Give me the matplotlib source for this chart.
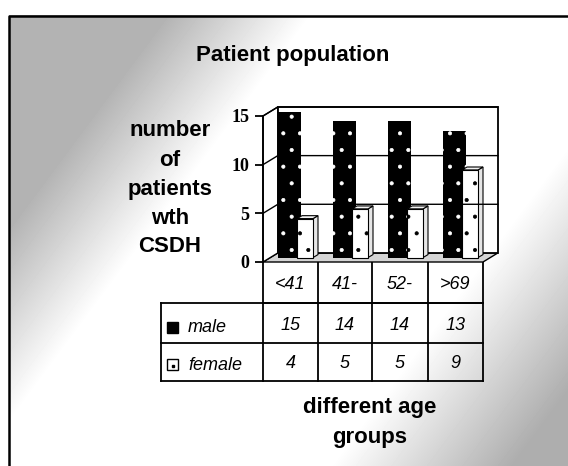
import matplotlib.pyplot as plt
import numpy as np
from matplotlib.patches import Polygon

# data
age_groups = ["<41", "41-", "52-", ">69"]
male = [15, 14, 14, 13]
female = [4, 5, 5, 9]
series_names = ["male", "female"]
yticks = [0, 5, 10, 15]
ylabel_lines = ["number", "of", "patients", "wth", "CSDH"]

plt.rcParams["hatch.linewidth"] = 0.5

W, H = 568, 466
fig = plt.figure(figsize=(W / 100, H / 100), dpi=100)

# background layer in pixel coords
bg = fig.add_axes([0, 0, 1, 1])
bg.set_xlim(0, W)
bg.set_ylim(H, 0)
bg.axis("off")

# grey diagonal shading, white band in the middle
xx, yy = np.meshgrid(np.arange(9, W), np.arange(15, H))
u = xx / 520 + yy / 700
shade = np.ones_like(u, dtype=float)
shade = np.where(u < 0.62, 0.70 + 0.30 * np.clip((u - 0.34) / 0.28, 0, 1), shade)
shade = np.where(u > 1.30, 1 - 0.32 * np.clip((u - 1.30) / 0.35, 0, 1), shade)
bg.imshow(shade, cmap="gray", vmin=0, vmax=1, extent=(9, W, H, 15),
          aspect="auto", interpolation="bilinear")
bg.set_xlim(0, W)
bg.set_ylim(H, 0)
bg.plot([8.5, 8.5, W], [H, 15.5, 15.5], color="black", lw=1.8)

bold = dict(family="Liberation Sans", weight="bold", color="black")
bg.text(293, 56, "Patient population", ha="center", va="center", fontsize=16, **bold)
for yl, txt in zip([131, 160, 189, 218, 247], ylabel_lines):
    bg.text(170, yl, txt, ha="center", va="center", fontsize=16, **bold)
bg.text(370, 407, "different age", ha="center", va="center", fontsize=16, **bold)
bg.text(370, 437, "groups", ha="center", va="center", fontsize=16, **bold)

# data table below the chart
col_x = [263, 318, 372, 428, 483]
row_y = [262, 303, 343, 381]
lab_x0 = 161
lk = dict(color="black", lw=1.3)
bg.plot([col_x[0], col_x[-1]], [row_y[1], row_y[1]], **lk)
bg.plot([lab_x0, lab_x0], [row_y[1], row_y[3]], **lk)
for yv in row_y[1:]:
    bg.plot([lab_x0, col_x[-1]], [yv, yv], **lk)
for xv in col_x:
    bg.plot([xv, xv], [row_y[0], row_y[3]], **lk)
tab = dict(family="Liberation Sans", style="italic", fontsize=13, color="black")
for i, g in enumerate(age_groups):
    cx = (col_x[i] + col_x[i + 1]) / 2
    bg.text(cx, (row_y[0] + row_y[1]) / 2 + 2, g, ha="center", va="center", **tab)
    bg.text(cx, (row_y[1] + row_y[2]) / 2 + 2, str(male[i]), ha="center", va="center", **tab)
    bg.text(cx, (row_y[2] + row_y[3]) / 2 + 1, str(female[i]), ha="center", va="center", **tab)
# legend keys
bg.add_patch(plt.Rectangle((167, 322), 11, 11, facecolor="black", edgecolor="black"))
bg.add_patch(plt.Rectangle((167, 359), 11, 11, facecolor="white", edgecolor="black", lw=1))
bg.plot([172.5], [366], "s", ms=1.5, color="black")
bg.text(188, 327, series_names[0], ha="left", va="center", **tab)
bg.text(188, 365, series_names[1], ha="left", va="center", **tab)

# chart axes: categories 0..4, values 0..15
ax = fig.add_axes([263 / W, (H - 262) / H, 220 / W, 146 / H])
ax.set_xlim(0, len(age_groups))
ax.set_ylim(0, 15)
ax.patch.set_alpha(0)
for s in ["top", "right", "bottom"]:
    ax.spines[s].set_visible(False)
ax.spines["left"].set_linewidth(1.3)
ax.set_xticks([])
ax.set_yticks(yticks)
ax.set_yticklabels([str(t) for t in yticks], family="Liberation Serif",
                   weight="bold", fontsize=13)
ax.tick_params(axis="y", direction="out", length=6, width=1.3, pad=4)

n = len(age_groups)
dx, dy = 0.27, 0.93
# floor, side wall, back wall
ax.add_patch(Polygon([(0, 0), (n, 0), (n + dx, dy), (dx, dy)], closed=True,
                     facecolor="#d4d4d4", edgecolor="black", lw=1.0, clip_on=False))
ax.add_patch(Polygon([(0, 0), (dx, dy), (dx, 15 + dy), (0, 15)], closed=True,
                     facecolor="white", edgecolor="black", lw=1.0, clip_on=False))
ax.add_patch(Polygon([(dx, dy), (n + dx, dy), (n + dx, 15 + dy), (dx, 15 + dy)],
                     closed=True, facecolor="white", edgecolor="black", lw=1.3,
                     clip_on=False))
for t in yticks[1:]:
    ax.plot([0, dx, n + dx], [t, t + dy, t + dy], color="black", lw=1.0, clip_on=False)

base = 0.46
for i in range(n):
    # male column
    ax.add_patch(plt.Rectangle((i + 0.27, base), 0.42, male[i], facecolor="black",
                               edgecolor="white", lw=0, hatch=".", clip_on=False))
    # female column with a little depth
    x0, x1 = i + 0.62, i + 0.91
    top = base + female[i]
    sx, sy = 0.09, 0.3
    ax.add_patch(Polygon([(x1, base), (x1 + sx, base + sy), (x1 + sx, top + sy), (x1, top)],
                         closed=True, facecolor="#e6e6e6", edgecolor="black", lw=0.8,
                         clip_on=False))
    ax.add_patch(Polygon([(x0, top), (x1, top), (x1 + sx, top + sy), (x0 + sx, top + sy)],
                         closed=True, facecolor="#f2f2f2", edgecolor="black", lw=0.8,
                         clip_on=False))
    ax.add_patch(plt.Rectangle((x0, base), x1 - x0, female[i], facecolor="white",
                               edgecolor="black", lw=0.8, hatch=".", clip_on=False))

fig.savefig("out.png", dpi=100)
